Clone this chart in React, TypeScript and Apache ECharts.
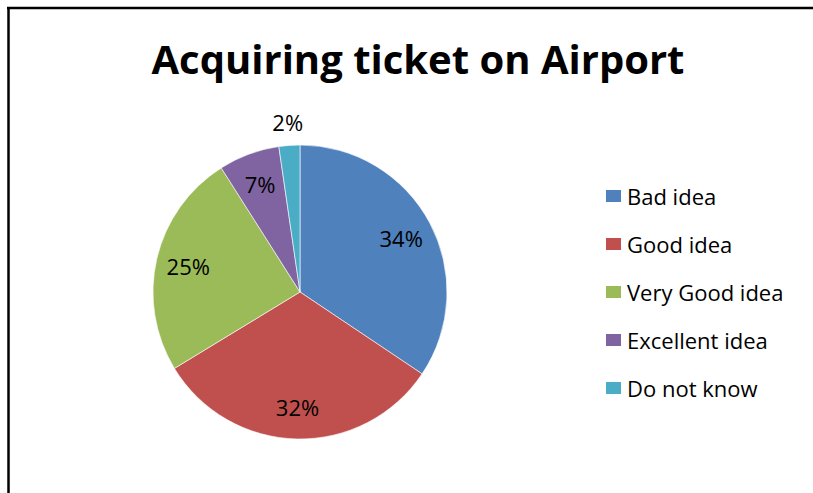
import React, { useEffect, useRef } from "react";
import * as echarts from "echarts";

const categories = ["Bad idea", "Good idea", "Very Good idea", "Excellent idea", "Do not know"];
const values = [34.4, 31.9, 24.7, 6.7, 2.3];
const colors = ["#4F81BD", "#C0504D", "#9BBB59", "#8064A2", "#4BACC6"];
const outsideLabels = ["Do not know"];

const FONT = "Open Sans";

export default function App() {
  const ref = useRef<HTMLDivElement>(null);
  useEffect(() => {
    document.body.style.margin = "0";
    const chart = echarts.init(ref.current!, null, { renderer: "svg" });
    const total = values.reduce((a, b) => a + b, 0);
    const pct = (v: number) => Math.round((v / total) * 100) + "%";
    const cx = 300;
    const cy = 292;
    const r = 147;
    const mainData = categories.map((name, i) => ({
      name,
      value: values[i],
      itemStyle: { color: colors[i] },
    }));
    const innerLabelData = categories.map((name, i) => ({
      name,
      value: values[i],
      label: { show: !outsideLabels.includes(name) },
    }));
    const outerLabelData = categories.map((name, i) => ({
      name,
      value: values[i],
      label: { show: outsideLabels.includes(name) },
    }));
    const labelCommon = {
      position: "inside" as const,
      formatter: (p: any) => pct(p.value),
      color: "#000",
      fontFamily: FONT,
      fontSize: 22,
    };
    chart.setOption({
      animation: false,
      backgroundColor: "#fff",
      title: {
        text: "Acquiring ticket on Airport",
        left: 413,
        top: 33,
        textAlign: "center",
        textStyle: { fontFamily: FONT, fontWeight: "bold", fontSize: 40, color: "#000" },
      },
      legend: {
        orient: "vertical",
        left: 604,
        top: 185,
        padding: 0,
        itemWidth: 17,
        itemHeight: 14,
        itemGap: 26,
        icon: "rect",
        selectedMode: false,
        data: categories.map((name, i) => ({ name, itemStyle: { color: colors[i] } })),
        textStyle: { fontFamily: FONT, fontSize: 22, color: "#000", lineHeight: 22 },
      },
      graphic: [
        { type: "line", shape: { x1: 8.5, y1: 7, x2: 8.5, y2: 493 }, style: { stroke: "#000", lineWidth: 2.5 } },
        { type: "line", shape: { x1: 7, y1: 8, x2: 813, y2: 8 }, style: { stroke: "#000", lineWidth: 2.5 } },
      ],
      series: [
        {
          type: "pie",
          center: [cx, cy],
          radius: [0, r],
          startAngle: 90,
          clockwise: true,
          silent: true,
          label: { show: false },
          labelLine: { show: false },
          itemStyle: { borderColor: "#fff", borderWidth: 0.6 },
          data: mainData,
        },
        {
          type: "pie",
          center: [cx, cy],
          radius: [r * 0.52, r],
          startAngle: 90,
          clockwise: true,
          silent: true,
          itemStyle: { color: "transparent" },
          label: labelCommon,
          labelLine: { show: false },
          data: innerLabelData,
        },
        {
          type: "pie",
          center: [cx, cy],
          radius: [r, r + 40],
          startAngle: 90,
          clockwise: true,
          silent: true,
          itemStyle: { color: "transparent" },
          label: labelCommon,
          labelLine: { show: false },
          data: outerLabelData,
        },
      ],
    });
    return () => chart.dispose();
  }, []);
  return <div ref={ref} style={{ position: "fixed", left: 0, top: 0, width: 813, height: 493 }} />;
}
